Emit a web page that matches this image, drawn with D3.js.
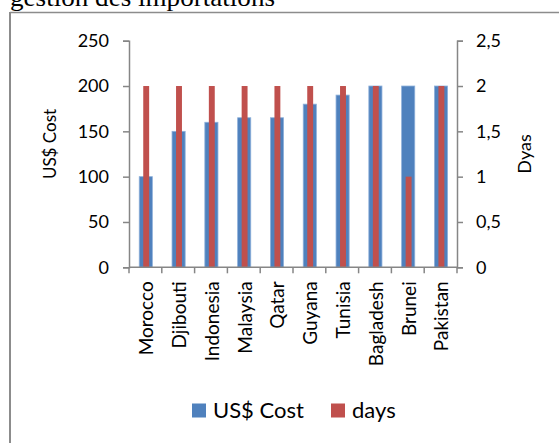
<!DOCTYPE html>
<html>
<head>
<meta charset="utf-8">
<script src="https://cdn.jsdelivr.net/npm/d3@7"></script>
<style>
  html, body { margin: 0; padding: 0; background: #fff; }
  svg { display: block; }
  text { font-family: Lato, "Open Sans", sans-serif; fill: #000; }
</style>
</head>
<body>
<svg id="chart" width="559" height="443"></svg>
<script>
// Import cost per country (US$) and processing time (days)
const countries = ["Morocco", "Djibouti", "Indonesia", "Malaysia", "Qatar",
                   "Guyana", "Tunisia", "Bagladesh", "Brunei", "Pakistan"];
const costValues = [100, 150, 160, 165, 165, 180, 190, 200, 200, 200];
const dayValues  = [2, 2, 2, 2, 2, 2, 2, 2, 1, 2];
const costTicks  = [0, 50, 100, 150, 200, 250];
const dayTicks   = [0, 0.5, 1, 1.5, 2, 2.5];
const seriesNames = ["US$ Cost", "days"];

const colors = { cost: "#4F81BD", costEdge: "#8EB0DA", days: "#C0504D", axis: "#868686" };

const svg = d3.select("#chart");
const margin = { left: 129, right: 457, top: 40.7, bottom: 267.3 };

// Frame around the chart object
svg.append("line").attr("x1", 10).attr("x2", 559).attr("y1", 12.5).attr("y2", 12.5)
  .attr("stroke", "#8c8c8c").attr("stroke-width", 1.3);
svg.append("line").attr("x1", 10).attr("x2", 10).attr("y1", 12).attr("y2", 443)
  .attr("stroke", "#8c8c8c").attr("stroke-width", 2);

// Heading line above the chart, only its lower part shows
svg.append("text")
  .attr("x", 10).attr("y", 6)
  .attr("textLength", 265).attr("lengthAdjust", "spacingAndGlyphs")
  .style("font-family", "'Liberation Serif', 'DejaVu Serif', serif")
  .style("font-size", "25px")
  .text("gestion des importations");

const x = d3.scaleBand().domain(countries).range([margin.left, margin.right]).padding(0);
const yCost = d3.scaleLinear().domain([0, 250]).range([margin.bottom, margin.top]);
const yDays = d3.scaleLinear().domain([0, 2.5]).range([margin.bottom, margin.top]);

const frLocale = d3.formatLocale({ decimal: ",", thousands: " ", grouping: [3], currency: ["", " €"] });
const fmt = frLocale.format("~g");

// Cost bars (primary axis)
const costW = x.bandwidth() * 0.4;
svg.append("g").selectAll("rect").data(countries).join("rect")
  .attr("x", (d) => x(d) + x.bandwidth() / 2 - costW / 2 + 0.4)
  .attr("y", (d, i) => yCost(costValues[i]))
  .attr("width", costW)
  .attr("height", (d, i) => yCost(0) - yCost(costValues[i]))
  .attr("fill", colors.cost)
  .attr("stroke", colors.costEdge).attr("stroke-width", 0.8);

// Days bars (secondary axis), narrower and drawn over the cost bars
const dayW = x.bandwidth() * 0.18;
svg.append("g").selectAll("rect").data(countries).join("rect")
  .attr("x", (d) => x(d) + x.bandwidth() / 2 - dayW / 2 + 0.8)
  .attr("y", (d, i) => yDays(dayValues[i]))
  .attr("width", dayW)
  .attr("height", (d, i) => yDays(0) - yDays(dayValues[i]))
  .attr("fill", colors.days);

function styleAxis(g) {
  g.selectAll(".domain").attr("stroke", colors.axis).attr("stroke-width", 1.5);
  g.selectAll(".tick line").attr("stroke", colors.axis).attr("stroke-width", 1.5);
  g.selectAll("text").attr("fill", "#000").style("font-family", "Lato, sans-serif");
}

// Left axis: cost
svg.append("g")
  .attr("transform", `translate(${margin.left},0)`)
  .call(d3.axisLeft(yCost).tickValues(costTicks).tickSize(6).tickPadding(14).tickSizeOuter(6))
  .call(styleAxis)
  .call((g) => g.selectAll("text").style("font-size", "18px"));

// Right axis: days
svg.append("g")
  .attr("transform", `translate(${margin.right},0)`)
  .call(d3.axisRight(yDays).tickValues(dayTicks).tickFormat(fmt).tickSize(6).tickPadding(13).tickSizeOuter(6))
  .call(styleAxis)
  .call((g) => g.selectAll("text").style("font-size", "18px"));

// Bottom axis: ticks between categories
const boundaries = d3.range(countries.length + 1).map((i) => margin.left + i * x.bandwidth());
const bottom = svg.append("g");
bottom.append("line")
  .attr("x1", margin.left).attr("x2", margin.right)
  .attr("y1", margin.bottom).attr("y2", margin.bottom)
  .attr("stroke", colors.axis).attr("stroke-width", 1.5);
bottom.selectAll("line.tick").data(boundaries).join("line")
  .attr("class", "tick")
  .attr("x1", (d) => d).attr("x2", (d) => d)
  .attr("y1", margin.bottom).attr("y2", margin.bottom + 6)
  .attr("stroke", colors.axis).attr("stroke-width", 1.5);
bottom.selectAll("text").data(countries).join("text")
  .attr("transform", (d) => `translate(${x(d) + x.bandwidth() / 2 + 1},${margin.bottom + 14}) rotate(-90)`)
  .attr("text-anchor", "end")
  .attr("dy", "0.36em")
  .style("font-size", "19px")
  .text((d) => d);

// Axis titles
svg.append("text")
  .attr("transform", "translate(50,144) rotate(-90)")
  .attr("text-anchor", "middle").attr("dy", "0.36em")
  .style("font-size", "17px")
  .text("US$ Cost");
svg.append("text")
  .attr("transform", "translate(525,154) rotate(-90)")
  .attr("text-anchor", "middle").attr("dy", "0.36em")
  .style("font-size", "18px")
  .text("Dyas");

// Legend
const legend = svg.append("g");
const legendItems = [
  { name: seriesNames[0], color: colors.cost, x: 192 },
  { name: seriesNames[1], color: colors.days, x: 331 }
];
legendItems.forEach((it) => {
  legend.append("rect").attr("x", it.x).attr("y", 403.5).attr("width", 14).attr("height", 14).attr("fill", it.color);
  legend.append("text").attr("x", it.x + 21).attr("y", 417.5)
    .style("font-size", "22px").text(it.name);
});
</script>
</body>
</html>
